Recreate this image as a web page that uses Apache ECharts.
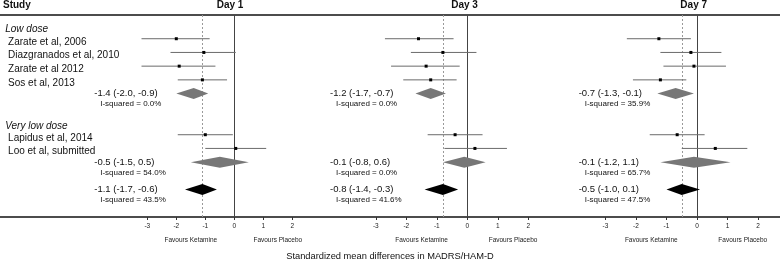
<!DOCTYPE html>
<html>
<head>
<meta charset="utf-8">
<script src="https://cdn.jsdelivr.net/npm/echarts@6/dist/echarts.min.js"></script>
<style>
  html, body { margin: 0; padding: 0; background: #fff; }
  #chart { width: 780px; height: 263px; }
</style>
</head>
<body>
<div id="chart"></div>
<script>
// ---- data ----
const studies = ['Zarate et al, 2006', 'Diazgranados et al, 2010', 'Zarate et al 2012', 'Sos et al, 2013', 'Lapidus et al, 2014', 'Loo et al, submitted'];
const studyRows = [0, 1, 2, 3, 7, 8];
const groups = ['Low dose', 'Very low dose'];
const groupRows = [-0.7, 6.35];
const summaryRows = [4, 9, 11]; // low dose, very low dose, overall
const days = ['Day 1', 'Day 3', 'Day 7'];

const day1Est = [-2.0, -1.05, -1.9, -1.1, -1.0, 0.05];
const day1Lo = [-3.2, -2.2, -3.2, -1.95, -1.95, -1.0];
const day1Hi = [-0.85, 0.05, -0.65, -0.25, -0.05, 1.1];
const day1SumEst = [-1.4, -0.5, -1.1];
const day1SumLo = [-2.0, -1.5, -1.7];
const day1SumHi = [-0.9, 0.5, -0.6];
const day1I2 = ['0.0', '54.0', '43.5'];

const day3Est = [-1.6, -0.8, -1.35, -1.2, -0.4, 0.25];
const day3Lo = [-2.7, -1.85, -2.5, -2.1, -1.3, -0.75];
const day3Hi = [-0.45, 0.3, -0.25, -0.35, 0.5, 1.3];
const day3SumEst = [-1.2, -0.1, -0.8];
const day3SumLo = [-1.7, -0.8, -1.4];
const day3SumHi = [-0.7, 0.6, -0.3];
const day3I2 = ['0.0', '0.0', '41.6'];

const day7Est = [-1.25, -0.2, -0.1, -1.2, -0.65, 0.6];
const day7Lo = [-2.3, -1.2, -1.1, -2.1, -1.55, -0.5];
const day7Hi = [-0.2, 0.8, 0.95, -0.35, 0.25, 1.65];
const day7SumEst = [-0.7, -0.1, -0.5];
const day7SumLo = [-1.3, -1.2, -1.0];
const day7SumHi = [-0.1, 1.1, 0.1];
const day7I2 = ['35.9', '65.7', '47.5'];

const xTicks = [-3, -2, -1, 0, 1, 2];
const favourLabels = ['Favours Ketamine', 'Favours Placebo'];
const favourAt = [-1.5, 1.5];
const xTitle = 'Standardized mean differences in MADRS/HAM-D';

// ---- layout ----
const FONT = '"Liberation Sans", Arial, sans-serif';
const panels = [
  { left: 2.3, width: 304.5, min: -8, max: 2.5, textX: -4.83, dayX: 230 },
  { left: 314.8, width: 228.75, min: -5, max: 2.5, textX: -4.5, dayX: 464.5 },
  { left: 544.5, width: 234.85, min: -5, max: 2.7, textX: -3.88, dayX: 693.7 }
];
const dayData = [
  [day1Est, day1Lo, day1Hi, day1SumEst, day1SumLo, day1SumHi, day1I2],
  [day3Est, day3Lo, day3Hi, day3SumEst, day3SumLo, day3SumHi, day3I2],
  [day7Est, day7Lo, day7Hi, day7SumEst, day7SumLo, day7SumHi, day7I2]
];
const nameX = -7.8, groupX = -7.9;

function fmt(v) { return v.toFixed(1); }

function renderCI(params, api) {
  const row = api.value(3);
  const c = api.coord([api.value(0), row]);
  const a = api.coord([api.value(1), row]);
  const b = api.coord([api.value(2), row]);
  return {
    type: 'group',
    children: [
      { type: 'line', shape: { x1: a[0], y1: a[1], x2: b[0], y2: b[1] }, style: { stroke: '#6b6b6b', lineWidth: 1 } },
      { type: 'rect', shape: { x: c[0] - 1.5, y: c[1] - 1.5, width: 3, height: 3 }, style: { fill: '#000' } }
    ]
  };
}

function renderDiamond(params, api) {
  const row = api.value(3);
  const c = api.coord([api.value(0), row]);
  const a = api.coord([api.value(1), row]);
  const b = api.coord([api.value(2), row]);
  const h = 5.5;
  return {
    type: 'polygon',
    shape: { points: [[a[0], a[1]], [c[0], c[1] - h], [b[0], b[1]], [c[0], c[1] + h]] },
    style: { fill: api.value(4) ? '#000' : '#777' }
  };
}

function textRenderer(texts, font, color, dx, dy) {
  return function (params, api) {
    const p = api.coord([api.value(0), api.value(1)]);
    return {
      type: 'text', x: p[0] + dx, y: p[1] + dy,
      style: { text: texts[params.dataIndex], font: font, fill: color, align: 'left', verticalAlign: 'middle' }
    };
  };
}

const grids = [], xAxes = [], yAxes = [], series = [];
panels.forEach(function (pn, p) {
  grids.push({ left: pn.left, width: pn.width, top: 15, height: 202 });
  xAxes.push({
    type: 'value', gridIndex: p, min: pn.min, max: pn.max, position: 'bottom',
    axisLine: { show: false, onZero: false }, splitLine: { show: false },
    axisTick: { show: true, customValues: xTicks, length: 3, lineStyle: { color: '#333' } },
    axisLabel: { customValues: xTicks, fontSize: 6.5, margin: 6, color: '#222', fontFamily: FONT }
  });
  xAxes.push({
    type: 'value', gridIndex: p, min: pn.min, max: pn.max, position: 'bottom',
    axisLine: { show: false, onZero: false }, splitLine: { show: false }, axisTick: { show: false },
    axisLabel: {
      customValues: favourAt, fontSize: 6.5, margin: 20, color: '#222', fontFamily: FONT,
      formatter: function (v) { return v < 0 ? favourLabels[0] : favourLabels[1]; }
    }
  });
  yAxes.push({ type: 'value', gridIndex: p, min: -1.73, max: 13, inverse: true, show: false });

  const d = dayData[p];
  const ci = studyRows.map(function (r, i) { return [d[0][i], d[1][i], d[2][i], r]; });
  const dm = summaryRows.map(function (r, i) { return [d[3][i], d[4][i], d[5][i], r, i === 2 ? 1 : 0]; });
  const overall = d[3][2];

  series.push({
    type: 'custom', xAxisIndex: 2 * p, yAxisIndex: p, renderItem: renderCI, data: ci,
    encode: { x: [0, 1, 2], y: 3 }, z: 3,
    markLine: {
      silent: true, symbol: 'none', label: { show: false }, z: 1,
      data: [
        { xAxis: 0, lineStyle: { color: '#444', type: 'solid', width: 1 } },
        { xAxis: overall, lineStyle: { color: '#9a9a9a', type: [2, 2], width: 1 } }
      ]
    }
  });
  series.push({
    type: 'custom', xAxisIndex: 2 * p, yAxisIndex: p, renderItem: renderDiamond, data: dm,
    encode: { x: [0, 1, 2], y: 3 }, z: 4
  });
  const sumText = summaryRows.map(function (r, i) { return fmt(d[3][i]) + ' (' + fmt(d[4][i]) + ', ' + fmt(d[5][i]) + ')'; });
  const i2Text = summaryRows.map(function (r, i) { return 'I-squared = ' + d[6][i] + '%'; });
  const sumPos = summaryRows.map(function (r) { return [pn.textX, r]; });
  series.push({
    type: 'custom', xAxisIndex: 2 * p, yAxisIndex: p, data: sumPos, silent: true,
    renderItem: textRenderer(sumText, '9.5px ' + FONT, '#111', 0, 0)
  });
  series.push({
    type: 'custom', xAxisIndex: 2 * p, yAxisIndex: p, data: sumPos, silent: true,
    renderItem: textRenderer(i2Text, '8px ' + FONT, '#111', 6, 10.5)
  });
});

// study names and group headings in the first panel
series.push({
  type: 'custom', xAxisIndex: 0, yAxisIndex: 0, silent: true,
  data: studyRows.map(function (r) { return [nameX, r]; }),
  renderItem: textRenderer(studies, '10px ' + FONT, '#111', 0, 3.3)
});
series.push({
  type: 'custom', xAxisIndex: 0, yAxisIndex: 0, silent: true,
  data: groupRows.map(function (r) { return [groupX, r]; }),
  renderItem: textRenderer(groups, 'italic 10px ' + FONT, '#111', 0, 0)
});

const graphics = [
  { type: 'line', shape: { x1: 0, y1: 15, x2: 780, y2: 15 }, style: { stroke: '#111', lineWidth: 1.4 } },
  { type: 'line', shape: { x1: 0, y1: 217, x2: 780, y2: 217 }, style: { stroke: '#111', lineWidth: 1.4 } },
  { type: 'text', x: 3, y: 5.5, style: { text: 'Study', font: 'bold 10px ' + FONT, fill: '#111', align: 'left', verticalAlign: 'middle' } },
  { type: 'text', x: 390, y: 256.5, style: { text: xTitle, font: '9.3px ' + FONT, fill: '#111', align: 'center', verticalAlign: 'middle' } }
];
panels.forEach(function (pn, p) {
  graphics.push({ type: 'text', x: pn.dayX, y: 5.5, style: { text: days[p], font: 'bold 10px ' + FONT, fill: '#111', align: 'center', verticalAlign: 'middle' } });
});

const chart = echarts.init(document.getElementById('chart'));
chart.setOption({
  animation: false,
  backgroundColor: '#fff',
  grid: grids,
  xAxis: xAxes,
  yAxis: yAxes,
  graphic: graphics,
  series: series
});
</script>
</body>
</html>
